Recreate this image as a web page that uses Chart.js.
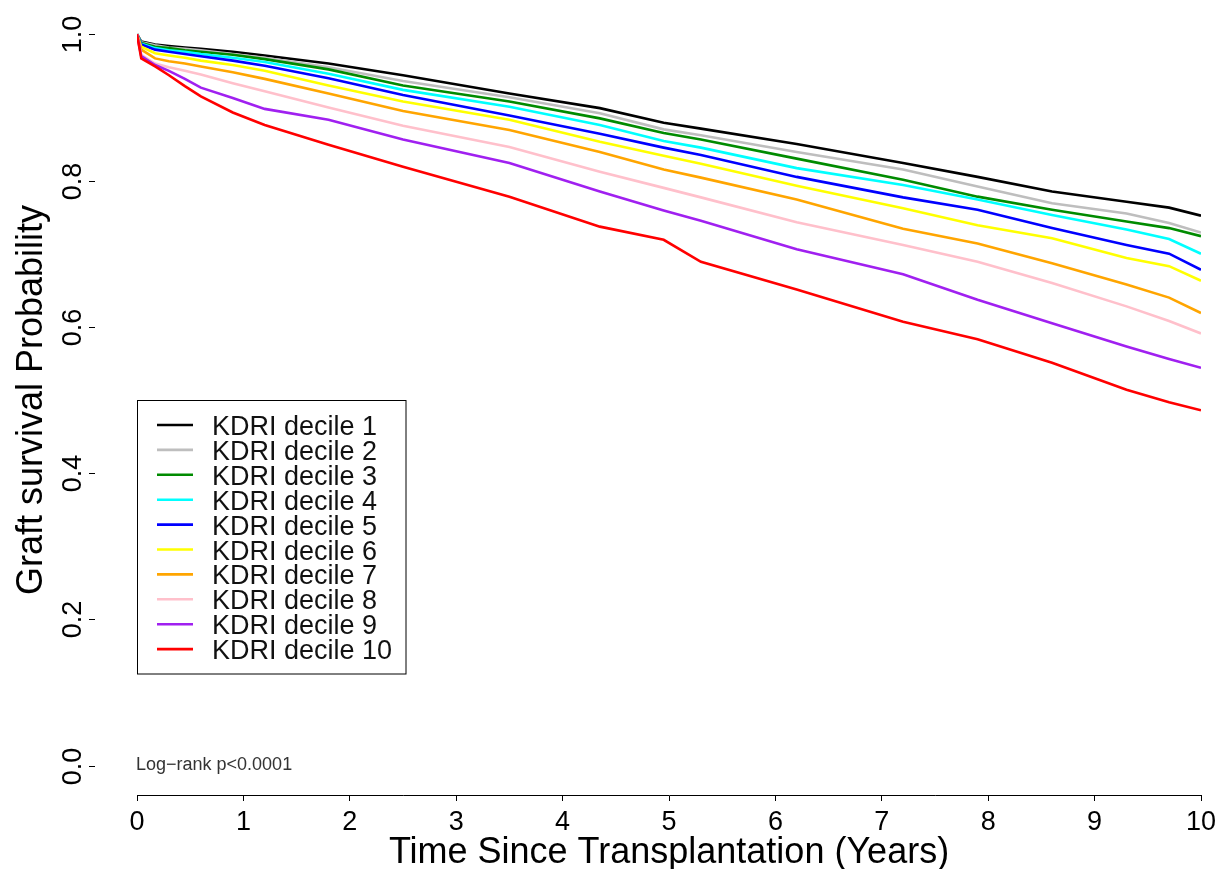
<!DOCTYPE html>
<html>
<head>
<meta charset="utf-8">
<script src="https://cdn.jsdelivr.net/npm/chart.js@4.4.1/dist/chart.umd.min.js"></script>
<style>
  html, body { margin: 0; padding: 0; background: #fff; overflow: hidden; }
  #wrap { width: 1221px; height: 869px; position: relative; }
</style>
</head>
<body>
<div id="wrap"><canvas id="km"></canvas></div>
<script>
// survival estimates, one array per KDRI decile
var years   = [0, 0.04, 0.17, 0.3, 0.45, 0.6, 0.9, 1.2, 1.8, 2.5, 3.5, 4.35, 4.95, 5.3, 6.2, 7.2, 7.9, 8.6, 9.3, 9.7, 10];
var decile1  = [1.0, 0.990, 0.986, 0.984, 0.982, 0.980, 0.976, 0.971, 0.960, 0.944, 0.919, 0.899, 0.879, 0.871, 0.850, 0.824, 0.805, 0.785, 0.771, 0.763, 0.752];
var decile2  = [1.0, 0.989, 0.985, 0.982, 0.980, 0.978, 0.973, 0.968, 0.955, 0.936, 0.914, 0.892, 0.870, 0.862, 0.839, 0.815, 0.792, 0.769, 0.755, 0.742, 0.729];
var decile3  = [1.0, 0.988, 0.983, 0.981, 0.978, 0.976, 0.972, 0.966, 0.952, 0.930, 0.908, 0.885, 0.865, 0.856, 0.830, 0.801, 0.778, 0.760, 0.744, 0.735, 0.724];
var decile4  = [1.0, 0.987, 0.981, 0.978, 0.976, 0.973, 0.968, 0.962, 0.946, 0.924, 0.901, 0.876, 0.854, 0.845, 0.817, 0.794, 0.774, 0.753, 0.733, 0.720, 0.700];
var decile5  = [1.0, 0.986, 0.979, 0.976, 0.973, 0.970, 0.964, 0.957, 0.940, 0.917, 0.889, 0.864, 0.845, 0.835, 0.805, 0.777, 0.760, 0.735, 0.712, 0.700, 0.678];
var decile6  = [1.0, 0.983, 0.974, 0.971, 0.968, 0.964, 0.958, 0.950, 0.930, 0.908, 0.883, 0.853, 0.834, 0.823, 0.793, 0.762, 0.739, 0.721, 0.694, 0.683, 0.663];
var decile7  = [1.0, 0.979, 0.967, 0.963, 0.960, 0.956, 0.948, 0.939, 0.919, 0.895, 0.869, 0.839, 0.815, 0.804, 0.774, 0.734, 0.714, 0.687, 0.658, 0.640, 0.619];
var decile8  = [1.0, 0.972, 0.960, 0.955, 0.950, 0.945, 0.933, 0.922, 0.900, 0.875, 0.846, 0.812, 0.790, 0.777, 0.743, 0.712, 0.689, 0.660, 0.628, 0.608, 0.591];
var decile9  = [1.0, 0.970, 0.958, 0.950, 0.939, 0.927, 0.913, 0.898, 0.883, 0.856, 0.824, 0.785, 0.759, 0.745, 0.706, 0.672, 0.637, 0.605, 0.573, 0.556, 0.544];
var decile10 = [1.0, 0.967, 0.956, 0.944, 0.929, 0.915, 0.893, 0.876, 0.849, 0.819, 0.778, 0.737, 0.719, 0.689, 0.651, 0.607, 0.583, 0.551, 0.514, 0.497, 0.486];

var groupNames = ["KDRI decile 1", "KDRI decile 2", "KDRI decile 3", "KDRI decile 4", "KDRI decile 5",
                  "KDRI decile 6", "KDRI decile 7", "KDRI decile 8", "KDRI decile 9", "KDRI decile 10"];
var groupColors = ["#000000", "#BEBEBE", "#008B00", "#00FFFF", "#0000FF",
                   "#FFFF00", "#FFA500", "#FFC0CB", "#A020F0", "#FF0000"];
var xTicks = [0, 1, 2, 3, 4, 5, 6, 7, 8, 9, 10];
var yTicks = [0, 0.2, 0.4, 0.6, 0.8, 1.0];

var series = [decile1, decile2, decile3, decile4, decile5, decile6, decile7, decile8, decile9, decile10];
var FONT = "'Liberation Sans', Arial, Helvetica, sans-serif";

var datasets = series.map(function (vals, i) {
  return {
    label: groupNames[i],
    data: vals.map(function (v, j) { return { x: years[j], y: v }; }),
    borderColor: groupColors[i],
    backgroundColor: groupColors[i],
    borderWidth: 2.6,
    pointRadius: 0,
    tension: 0,
    fill: false,
    order: series.length - i   // later deciles on top, red last like R
  };
});

// y axis (rotated labels), legend box and log-rank note, R style
var decorations = {
  id: "decorations",
  afterDraw: function (chart) {
    var ctx = chart.ctx;
    var ys = chart.scales.y;
    var area = chart.chartArea;
    ctx.save();

    // y ticks + rotated labels
    ctx.strokeStyle = "#000";
    ctx.lineWidth = 1;
    ctx.fillStyle = "#000";
    ctx.font = "27px " + FONT;
    ctx.textAlign = "center";
    ctx.textBaseline = "alphabetic";
    yTicks.forEach(function (v) {
      var py = Math.round(ys.getPixelForValue(v)) + 0.5;
      ctx.beginPath();
      ctx.moveTo(89, py);
      ctx.lineTo(95, py);
      ctx.stroke();
      ctx.save();
      ctx.translate(81, py);
      ctx.rotate(-Math.PI / 2);
      ctx.fillText(v.toFixed(1), 0, 0);
      ctx.restore();
    });

    // y title
    ctx.save();
    ctx.font = "36px " + FONT;
    ctx.translate(42, (area.top + area.bottom) / 2);
    ctx.rotate(-Math.PI / 2);
    ctx.fillText("Graft survival Probability", 0, 0);
    ctx.restore();

    // log-rank note
    ctx.font = "18px " + FONT;
    ctx.fillStyle = "#333";
    ctx.textAlign = "left";
    ctx.fillText("Log\u2212rank p<0.0001", 136, 770);

    // legend
    var lx = 137.5, ly = 400.5, lw = 268.5, lh = 273.5;
    ctx.strokeStyle = "#000";
    ctx.lineWidth = 1;
    ctx.strokeRect(lx, ly, lw, lh);
    ctx.font = "27px " + FONT;
    ctx.fillStyle = "#111";
    chart.data.datasets.forEach(function (ds, i) {
      var rowY = 425 + i * 24.9;
      ctx.strokeStyle = ds.borderColor;
      ctx.lineWidth = 2.6;
      ctx.beginPath();
      ctx.moveTo(157, rowY);
      ctx.lineTo(193, rowY);
      ctx.stroke();
      ctx.fillText(ds.label, 212, rowY + 10);
    });

    ctx.restore();
  }
};

new Chart(document.getElementById("km"), {
  type: "line",
  data: { datasets: datasets },
  options: {
    responsive: true,
    maintainAspectRatio: false,
    animation: false,
    devicePixelRatio: 1,
    layout: { padding: { left: 137, right: 20, top: 5, bottom: 0 } },
    plugins: {
      legend: { display: false },
      tooltip: { enabled: false }
    },
    scales: {
      x: {
        type: "linear",
        min: 0,
        max: 10,
        position: "bottom",
        afterBuildTicks: function (scale) {
          scale.ticks = xTicks.map(function (v) { return { value: v }; });
        },
        afterFit: function (scale) {
          // let the "10" label hang over the edge instead of shrinking the plot
          scale.paddingLeft = 0;
          scale.paddingRight = 0;
        },
        grid: { drawOnChartArea: false, drawTicks: true, tickLength: 6, color: "#000", lineWidth: 1 },
        border: { display: true, color: "#000", width: 1 },
        ticks: {
          color: "#000",
          padding: 8,
          maxRotation: 0,
          autoSkip: false,
          font: { family: FONT, size: 27, lineHeight: 1 }
        },
        title: {
          display: true,
          text: "Time Since Transplantation (Years)",
          color: "#000",
          padding: { top: -9, bottom: -2 },
          font: { family: FONT, size: 36, lineHeight: 1 }
        }
      },
      y: {
        type: "linear",
        min: -0.04,
        max: 1.04,
        display: false
      }
    }
  },
  plugins: [decorations]
});
</script>
</body>
</html>
